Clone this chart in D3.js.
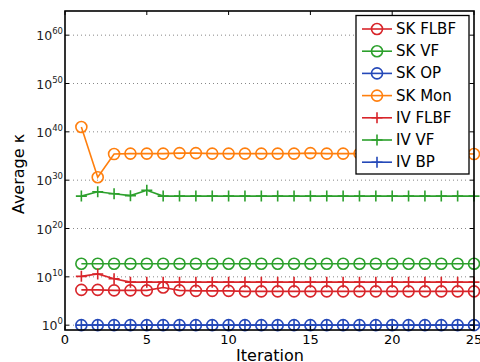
<!DOCTYPE html>
<html>
<head>
<meta charset="utf-8">
<script src="https://cdn.jsdelivr.net/npm/d3@7"></script>
<style>
  body { margin: 0; background: #fff; }
  text { font-family: "DejaVu Sans", sans-serif; }
</style>
</head>
<body>
<div id="canvas"></div>
<script>
"use strict";

let svgWidth = 480;
let svgHeight = 362;
let margin = { left: 65, right: 6, top: 11, bottom: 32 };

// Data: log10 of average kappa, iterations 1..25
let iterations = d3.range(1, 26);
let skFlbf = [7.3, 7.3, 7.2, 7.2, 7.2, 7.8, 7.2, 7.1, 7.1, 7.1, 7.0, 7.0, 7.0, 7.0, 7.0, 7.0, 7.0, 7.0, 7.0, 7.0, 7.0, 7.0, 7.0, 7.0, 7.0];
let skVf = [12.7, 12.7, 12.7, 12.7, 12.7, 12.7, 12.7, 12.7, 12.7, 12.7, 12.7, 12.7, 12.7, 12.7, 12.7, 12.7, 12.7, 12.7, 12.7, 12.7, 12.7, 12.7, 12.7, 12.7, 12.7];
let skOp = [0, 0, 0, 0, 0, 0, 0, 0, 0, 0, 0, 0, 0, 0, 0, 0, 0, 0, 0, 0, 0, 0, 0, 0, 0];
let skMon = [41.0, 30.6, 35.4, 35.5, 35.5, 35.5, 35.6, 35.6, 35.5, 35.5, 35.5, 35.5, 35.5, 35.5, 35.6, 35.5, 35.5, 35.5, 35.5, 35.5, 35.5, 35.5, 35.5, 35.5, 35.4];
let ivFlbf = [10.1, 10.6, 9.6, 8.9, 8.9, 8.9, 8.9, 8.9, 8.9, 8.9, 8.9, 8.9, 8.9, 8.9, 8.9, 8.9, 8.9, 8.9, 8.9, 8.9, 8.9, 8.9, 8.9, 8.9, 8.9];
let ivVf = [26.7, 27.6, 27.2, 26.8, 27.9, 26.7, 26.7, 26.7, 26.7, 26.7, 26.7, 26.7, 26.7, 26.7, 26.7, 26.7, 26.7, 26.7, 26.7, 26.7, 26.7, 26.7, 26.7, 26.7, 26.7];
let ivBp = [0, 0, 0, 0, 0, 0, 0, 0, 0, 0, 0, 0, 0, 0, 0, 0, 0, 0, 0, 0, 0, 0, 0, 0, 0];

let xTicks = [0, 5, 10, 15, 20, 25];
let yTickExps = [0, 10, 20, 30, 40, 50, 60];

let red = "#d8252a";
let green = "#2ca02c";
let blue = "#2448b8";
let orange = "#ff7f0e";

let series = [
    { name: "SK FLBF", values: skFlbf, color: red, marker: "circle" },
    { name: "SK VF", values: skVf, color: green, marker: "circle" },
    { name: "SK OP", values: skOp, color: blue, marker: "circle" },
    { name: "SK Mon", values: skMon, color: orange, marker: "circle" },
    { name: "IV FLBF", values: ivFlbf, color: red, marker: "plus" },
    { name: "IV VF", values: ivVf, color: green, marker: "plus" },
    { name: "IV BP", values: ivBp, color: blue, marker: "plus" }
];

let svg = d3.select("#canvas")
    .append("svg")
    .attr("width", svgWidth)
    .attr("height", svgHeight);

let x0 = margin.left, x1 = svgWidth - margin.right;
let y0 = svgHeight - margin.bottom, y1 = margin.top;

let xScale = d3.scaleLinear().domain([0, 25]).range([x0, x1]);
let yScale = d3.scaleLog().domain([1e-1, 1e65]).range([y0, y1]);

// Gridlines (dotted)
svg.selectAll("line.grid")
    .data(yTickExps)
    .join("line")
    .attr("class", "grid")
    .attr("x1", x0)
    .attr("x2", x1)
    .attr("y1", d => yScale(Math.pow(10, d)))
    .attr("y2", d => yScale(Math.pow(10, d)))
    .attr("stroke", "#888")
    .attr("stroke-width", 1)
    .attr("stroke-dasharray", "1,3");

// Marker drawing
function drawMarker(g, m, color, r) {
    if (m === "circle") {
        g.append("circle")
            .attr("r", r)
            .attr("fill", "none")
            .attr("stroke", color)
            .attr("stroke-width", 1.6);
    } else {
        g.append("path")
            .attr("d", `M${-r},0H${r}M0,${-r}V${r}`)
            .attr("stroke", color)
            .attr("stroke-width", 1.6);
    }
}

let line = d3.line()
    .x((d, i) => xScale(iterations[i]))
    .y(d => yScale(Math.pow(10, d)));

let plot = svg.append("g");
series.forEach(s => {
    plot.append("path")
        .attr("d", line(s.values))
        .attr("fill", "none")
        .attr("stroke", s.color)
        .attr("stroke-width", 1.6);
    s.values.forEach((v, i) => {
        let g = plot.append("g")
            .attr("transform", `translate(${xScale(iterations[i])},${yScale(Math.pow(10, v))})`);
        drawMarker(g, s.marker, s.color, 5.5);
    });
});

// Axes box
svg.append("rect")
    .attr("x", x0)
    .attr("y", y1)
    .attr("width", x1 - x0)
    .attr("height", y0 - y1)
    .attr("fill", "none")
    .attr("stroke", "black")
    .attr("stroke-width", 1.6);

// Inward ticks
xTicks.forEach(t => {
    svg.append("line")
        .attr("x1", xScale(t)).attr("x2", xScale(t))
        .attr("y1", y0).attr("y2", y0 - 4)
        .attr("stroke", "black");
    svg.append("line")
        .attr("x1", xScale(t)).attr("x2", xScale(t))
        .attr("y1", y1).attr("y2", y1 + 4)
        .attr("stroke", "black");
    svg.append("text")
        .attr("x", xScale(t))
        .attr("y", y0 + 14)
        .attr("text-anchor", "middle")
        .style("font-size", "13px")
        .text(t);
});

yTickExps.forEach(e => {
    let y = yScale(Math.pow(10, e));
    svg.append("line")
        .attr("x1", x0).attr("x2", x0 + 4)
        .attr("y1", y).attr("y2", y)
        .attr("stroke", "black");
    svg.append("line")
        .attr("x1", x1).attr("x2", x1 - 4)
        .attr("y1", y).attr("y2", y)
        .attr("stroke", "black");
    let t = svg.append("text")
        .attr("x", x0 - 2)
        .attr("y", y + 5)
        .attr("text-anchor", "end")
        .style("font-size", "12.5px")
        .attr("fill", "#222");
    t.append("tspan").text("10");
    t.append("tspan")
        .attr("dy", -6)
        .style("font-size", "8.5px")
        .text(e);
});

// Axis labels
svg.append("text")
    .attr("transform", "rotate(-90)")
    .attr("x", -174)
    .attr("y", 24)
    .attr("text-anchor", "middle")
    .style("font-size", "16px")
    .text("Average κ");

svg.append("text")
    .attr("x", 270)
    .attr("y", 361)
    .attr("text-anchor", "middle")
    .style("font-size", "16px")
    .text("Iteration");

// Legend
let legX = 356, legY = 15.5, legW = 113, legH = 158.5;
svg.append("rect")
    .attr("x", legX)
    .attr("y", legY)
    .attr("width", legW)
    .attr("height", legH)
    .attr("fill", "white")
    .attr("stroke", "black")
    .attr("stroke-width", 1.3);

series.forEach((s, i) => {
    let y = 29 + i * 22.2;
    svg.append("line")
        .attr("x1", 362).attr("x2", 392)
        .attr("y1", y).attr("y2", y)
        .attr("stroke", s.color)
        .attr("stroke-width", 1.6);
    let g = svg.append("g").attr("transform", `translate(377,${y})`);
    drawMarker(g, s.marker, s.color, 5.5);
    svg.append("text")
        .attr("x", 396)
        .attr("y", y)
        .attr("dominant-baseline", "central")
        .style("font-size", "15px")
        .text(s.name);
});
</script>
</body>
</html>
